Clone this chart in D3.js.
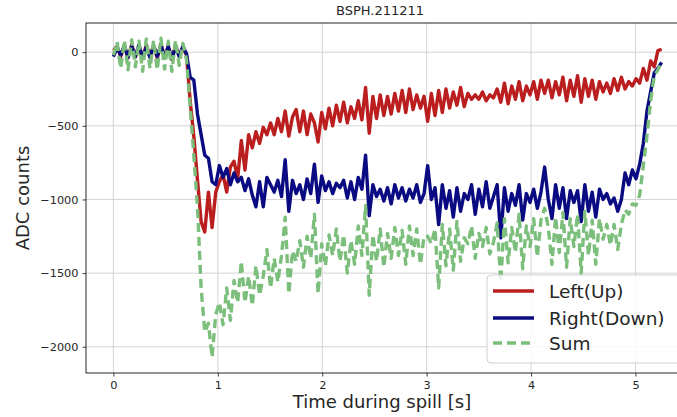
<!DOCTYPE html>
<html>
<head>
<meta charset="utf-8">
<script src="https://cdn.jsdelivr.net/npm/d3@7"></script>
<style>
  body { margin: 0; background: #fff; }
  svg { display: block; font-family: "DejaVu Sans", sans-serif; }
</style>
</head>
<body>
<svg id="chart" width="677" height="417"></svg>
<script>
// sample interval of the scope trace (s)
const DT = 0.035

const seriesNames = ['Left(Up)', 'Right(Down)', 'Sum']

const leftUp = [
  10, 40, -30, 45, -40, 50, -35, 40, -45, 50, -30, 45, -40, 55, -35, 40, -50, 45, -20, 30,
  -20, -330, -570, -866, -1150, -1220, -950, -1190, -950, -880,
  -830, -950, -780, -740, -860, -600, -800, -560, -650, -540,
  -620, -510, -560, -480, -560, -450, -540, -400, -570, -440,
  -390, -540, -400, -560, -420, -480, -610, -410, -520, -380,
  -500, -360, -470, -340, -480, -370, -450, -330, -460, -240,
  -550, -300, -450, -290, -430, -300, -420, -280, -400, -260,
  -410, -250, -390, -290, -380, -300, -470, -280, -430, -260,
  -410, -250, -380, -270, -360, -240, -370, -280, -320, -290,
  -320, -270, -330, -290, -310, -250, -340, -210, -350, -230,
  -320, -200, -330, -230, -290, -200, -320, -190, -280, -190,
  -310, -200, -290, -170, -330, -190, -300, -160, -340, -180,
  -300, -190, -320, -200, -270, -210, -280, -180, -260, -170,
  -250, -200, -230, -180, -210, -110, -190, -60, -100, 10, 20
]

const rightDown = [
  -30, 30, -20, 45, -35, 40, -30, 50, -40, 35, -35, 45, -30, 50, -40, 40, -45, 35, -30, 40,
  -10, -170, -190, -420, -560, -700, -720, -880, -900, -770,
  -850, -790, -900, -820, -880, -850, -940, -860, -970, -1050,
  -880, -1050, -850, -900, -950, -870, -980, -730, -1080, -870,
  -960, -900, -1000, -860, -960, -760, -1020, -840, -940, -880,
  -960, -890, -920, -870, -990, -880, -1000, -850, -930, -700,
  -1110, -900, -980, -930, -1010, -920, -1030, -900, -990, -920,
  -1010, -930, -990, -900, -1020, -960, -770, -1000, -920, -1170,
  -900, -1060, -940, -1120, -920, -1080, -960, -1000, -900, -1100,
  -930, -1050, -880, -1060, -980, -900, -1260, -920, -1080, -960,
  -1040, -900, -1140, -960, -1020, -930, -1060, -950, -780, -1000,
  -1130, -900, -1060, -920, -1130, -940, -1020, -940, -1150, -900,
  -1080, -950, -1120, -930, -1000, -960, -1030, -990, -1080, -1000,
  -820, -900, -800, -860, -760, -620, -400, -270, -140, -110, -70
]

const sum = [
  -20, 70, -110, 80, -120, 85, -100, 75, -130, 90, -110, 80, -120, 95, -115, 75, -130, 80, -90, 60,
  -50, -370, -700, -1050, -1600, -1900, -1840, -2070, -1780, -1700,
  -1850, -1600, -1820, -1550, -1700, -1420, -1700, -1520, -1720, -1450,
  -1650, -1520, -1340, -1600, -1400, -1560, -1380, -1120, -1640, -1350,
  -1420, -1280, -1460, -1250, -1400, -1100, -1640, -1300, -1450, -1240,
  -1380, -1200, -1420, -1240, -1500, -1280, -1440, -1180, -1380, -1040,
  -1650, -1240, -1420, -1200, -1460, -1230, -1400, -1190, -1380, -1210,
  -1440, -1180, -1380, -1200, -1440, -1250, -1250, -1300, -1200, -1600,
  -1170, -1450, -1200, -1480, -1150, -1420, -1260, -1300, -1180, -1400,
  -1230, -1320, -1190, -1370, -1290, -1160, -1560, -1130, -1430, -1190,
  -1360, -1100, -1470, -1180, -1320, -1130, -1390, -1140, -1060, -1190,
  -1440, -1120, -1360, -1090, -1460, -1130, -1320, -1100, -1500, -1080,
  -1380, -1140, -1440, -1130, -1270, -1170, -1310, -1170, -1340, -1170,
  -1070, -1100, -1030, -1040, -970, -770, -570, -330, -160, -120, -60
]

const xTicks = [0, 1, 2, 3, 4, 5]
const yTicks = [0, -500, -1000, -1500, -2000]

const colors = ['#bb1e1e', '#0a0a82', '#7cbf7c']

class Chart {
  constructor() {
    this.svg = d3.select('#chart')
    // axes box; right edge falls just outside the cropped picture
    this.left = 86
    this.right = 689
    this.top = 23
    this.bottom = 373

    this.x = d3.scaleLinear().domain([-0.2625, 5.5125]).range([this.left, this.right])
    this.y = d3.scaleLinear().domain([-2178, 198]).range([this.bottom, this.top])

    this.drawGrid()
    this.drawLines()
    this.drawAxes()
    this.drawLegend()
  }

  drawGrid() {
    const g = this.svg.append('g')
    g.selectAll('.gx').data(xTicks).join('line')
      .attr('x1', d => this.x(d)).attr('x2', d => this.x(d))
      .attr('y1', this.top).attr('y2', this.bottom)
      .attr('stroke', '#d4d4d4').attr('stroke-width', 1)
    g.selectAll('.gy').data(yTicks).join('line')
      .attr('y1', d => this.y(d)).attr('y2', d => this.y(d))
      .attr('x1', this.left).attr('x2', this.right)
      .attr('stroke', '#d4d4d4').attr('stroke-width', 1)
  }

  drawLines() {
    const line = d3.line()
      .x((d, i) => this.x(i * DT))
      .y(d => this.y(d))

    const all = [leftUp, rightDown, sum]
    all.forEach((vals, k) => {
      this.svg.append('path')
        .datum(vals)
        .attr('d', line)
        .attr('fill', 'none')
        .attr('stroke', colors[k])
        .attr('stroke-width', 3.4)
        .attr('stroke-linejoin', 'round')
        .attr('stroke-dasharray', k === 2 ? '9,5' : null)
    })
  }

  drawAxes() {
    const xAxis = d3.axisBottom(this.x).tickValues(xTicks).tickSize(3.5).tickPadding(4)
      .tickFormat(d3.format('d'))
    const yAxis = d3.axisLeft(this.y).tickValues(yTicks).tickSize(3.5).tickPadding(4)
      .tickFormat(d => d < 0 ? '\u2212' + Math.abs(d) : d)

    const gx = this.svg.append('g').attr('transform', `translate(0,${this.bottom})`).call(xAxis)
    const gy = this.svg.append('g').attr('transform', `translate(${this.left},0)`).call(yAxis)
    ;[gx, gy].forEach(g => {
      g.select('.domain').remove()
      g.selectAll('text').attr('font-size', 11.3).attr('fill', '#262626')
        .attr('font-family', '"DejaVu Sans", sans-serif')
      g.selectAll('line').attr('stroke', '#262626').attr('stroke-width', 0.9)
    })

    // frame
    this.svg.append('rect')
      .attr('x', this.left).attr('y', this.top)
      .attr('width', this.right - this.left).attr('height', this.bottom - this.top)
      .attr('fill', 'none').attr('stroke', '#262626').attr('stroke-width', 1)

    this.svg.append('text')
      .attr('x', 380).attr('y', 15)
      .attr('text-anchor', 'middle').attr('font-size', 13).attr('fill', '#262626')
      .text('BSPH.211211')

    this.svg.append('text')
      .attr('x', 382).attr('y', 408)
      .attr('text-anchor', 'middle').attr('font-size', 18).attr('fill', '#262626')
      .text('Time during spill [s]')

    this.svg.append('text')
      .attr('transform', `translate(29,${(this.top + this.bottom) / 2}) rotate(-90)`)
      .attr('text-anchor', 'middle').attr('font-size', 18).attr('fill', '#262626')
      .text('ADC counts')
  }

  drawLegend() {
    const g = this.svg.append('g').attr('transform', 'translate(487,275)')
    g.append('rect')
      .attr('width', 220).attr('height', 88).attr('rx', 4)
      .attr('fill', '#fff').attr('fill-opacity', 0.85)
      .attr('stroke', '#d0d0d0').attr('stroke-width', 1)

    const rowY = [16, 43, 68]
    seriesNames.forEach((name, k) => {
      g.append('line')
        .attr('x1', 6).attr('x2', 47).attr('y1', rowY[k]).attr('y2', rowY[k])
        .attr('stroke', colors[k]).attr('stroke-width', 3.4)
        .attr('stroke-dasharray', k === 2 ? '9,5' : null)
      g.append('text')
        .attr('x', 62).attr('y', rowY[k] + 6.5)
        .attr('font-size', 18.5).attr('fill', '#262626')
        .text(name)
    })
  }
}

new Chart()
</script>
</body>
</html>
